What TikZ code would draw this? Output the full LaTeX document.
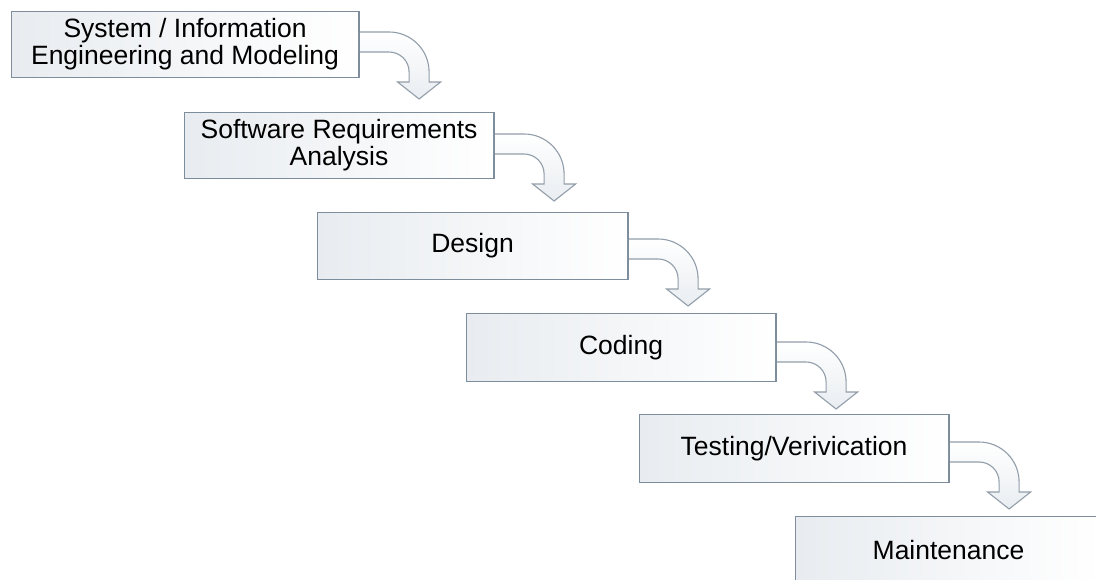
\documentclass[tikz,border=0pt]{standalone}
\usepackage{fontspec}
\setmainfont{Liberation Sans}
\usetikzlibrary{calc}
\definecolor{boxline}{HTML}{7E8D9C}
\definecolor{boxshade}{HTML}{E8ECF0}
\definecolor{arrline}{HTML}{929EAA}
\definecolor{arrshade}{HTML}{E9EDF1}
\tikzset{
  stage/.style={draw=boxline, line width=1.1pt, left color=boxshade, right color=white,
    anchor=north west, inner sep=0pt, align=center,
    font=\fontsize{26.5}{27}\selectfont, text=black},
  flow/.style={draw=arrline, line width=1.1pt, top color=white, bottom color=arrshade,
    line join=miter},
}
% bent block arrow leaving the right side of a stage, #2 = drop below its top edge
\newcommand{\bentarrow}[2]{%
  \path[flow] ($(#1.north east)+(0,-#2)$) -- ++(30,0)
    arc[start angle=90, end angle=0, radius=40] -- ++(0,-10)
    -- ++(11.5,0) -- ++(-21.5,-17) -- ++(-21.5,17) -- ++(11.5,0) -- ++(0,10)
    arc[start angle=0, end angle=90, radius=20] -- ++(-30,0) -- cycle;
}
\begin{document}
\begin{tikzpicture}[x=1pt,y=1pt]
  \useasboundingbox (0,0) rectangle (1096,-579);
  \clip (0,0) rectangle (1096,-579);
  \fill[white] (0,0) rectangle (1096,-579);

  \path (11,-11) coordinate (p1) (184,-112) coordinate (p2) (317,-212) coordinate (p3)
        (466,-313) coordinate (p4) (639,-414) coordinate (p5) (795,-516) coordinate (p6);

  \node[stage, minimum width=347pt, minimum height=66pt] (s1) at (p1)
    {System / Information\\Engineering and Modeling};
  \node[stage, minimum width=309pt, minimum height=66pt] (s2) at (p2)
    {Software Requirements\\Analysis};
  \node[stage, minimum width=310pt, minimum height=67pt] (s3) at (p3) {Design};
  \node[stage, minimum width=309pt, minimum height=68pt] (s4) at (p4) {Coding};
  \node[stage, minimum width=309pt, minimum height=68pt] (s5) at (p5) {Testing/Verivication};
  \node[stage, minimum width=306pt, minimum height=66pt] (s6) at (p6) {Maintenance};

  \bentarrow{s1}{21}
  \bentarrow{s2}{22}
  \bentarrow{s3}{27}
  \bentarrow{s4}{29}
  \bentarrow{s5}{28}

  % redraw the right borders so they run across the arrow tails
  \foreach \s in {s1,s2,s3,s4,s5}
    \draw[boxline, line width=1.1pt] (\s.north east) -- (\s.south east);
\end{tikzpicture}
\end{document}
